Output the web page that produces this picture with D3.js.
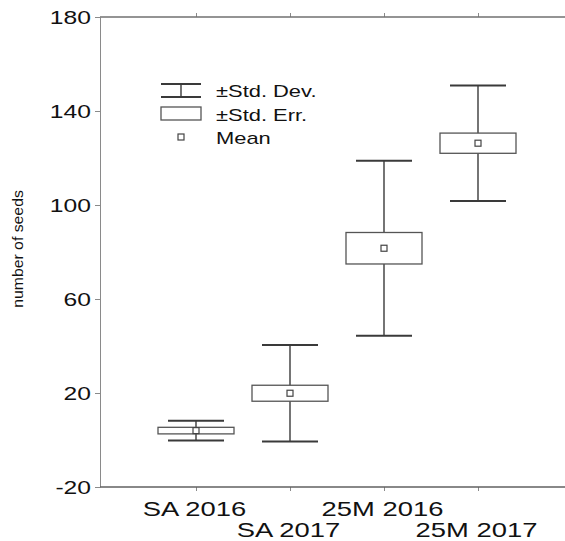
<!DOCTYPE html>
<html>
<head>
<meta charset="utf-8">
<script src="https://cdn.jsdelivr.net/npm/d3@7"></script>
<style>
  body { margin: 0; background: #fff; }
  text { font-family: "Liberation Sans", Arial, sans-serif; fill: #111; }
</style>
</head>
<body>
<div class="canvas"></div>
<script>
// data
const groups = ['SA 2016', 'SA 2017', '25M 2016', '25M 2017'];
const means = [4.0, 19.9, 81.6, 126.3];
const stdErr = [1.4, 3.4, 6.7, 4.3];
const stdDev = [4.2, 20.5, 37.2, 24.6];
const yTicks = [-20, 20, 60, 100, 140, 180];
const legendLabels = ['\u00B1Std. Dev.', '\u00B1Std. Err.', 'Mean'];

const dims = { width: 565, height: 541 };
const stretch = 1.37; // text in the original is wider than it is tall

const svg = d3.select('.canvas')
    .append('svg')
    .attr('width', dims.width)
    .attr('height', dims.height);

const y = d3.scaleLinear().domain([-20, 180]).range([487, 17]);
const x = d3.scalePoint().domain(groups).range([102, 572]).padding(1);

const axisColor = '#8a8a8a';
const markColor = '#3a3a3a';

// left axis
const yAxis = svg.append('g')
    .attr('transform', 'translate(100, 0)')
    .call(d3.axisLeft(y).tickValues(yTicks).tickSize(5).tickSizeOuter(0).tickFormat(d => String(d)));
yAxis.select('.domain').attr('stroke', axisColor);
yAxis.selectAll('.tick line').attr('stroke', axisColor);
yAxis.selectAll('.tick text')
    .attr('x', 0)
    .attr('dy', null)
    .attr('transform', 'translate(-9, 6.5) scale(' + stretch + ', 1)')
    .style('font-size', '18px')
    .style('font-family', '"Liberation Sans", Arial, sans-serif')
    .attr('fill', '#111');

// bottom axis with staggered labels
const xAxis = svg.append('g')
    .attr('transform', 'translate(0, 487)')
    .call(d3.axisBottom(x).tickSize(4).tickSizeOuter(0));
xAxis.select('.domain').remove();
xAxis.selectAll('.tick line').attr('stroke', axisColor);
xAxis.selectAll('.tick text')
    .attr('y', 0)
    .attr('dy', null)
    .attr('transform', (d, i) => 'translate(-2, ' + (i % 2 ? 50 : 29) + ') scale(' + stretch + ', 1)')
    .style('font-size', '20px')
    .style('font-family', '"Liberation Sans", Arial, sans-serif')
    .attr('fill', '#111');

// top axis (ticks only, no labels)
const topAxis = svg.append('g')
    .attr('transform', 'translate(0, 17)')
    .call(d3.axisTop(x).tickSize(4).tickSizeOuter(0).tickFormat(''));
topAxis.select('.domain').remove();
topAxis.selectAll('.tick line').attr('stroke', axisColor);

// horizontal frame lines
[17, 487].forEach(yy => {
    svg.append('line')
        .attr('x1', 100).attr('x2', dims.width)
        .attr('y1', yy).attr('y2', yy)
        .attr('stroke', yy === 17 ? '#707070' : '#606060')
        .attr('stroke-width', 1.3);
});

// y axis title
svg.append('text')
    .attr('transform', 'translate(23, 249) rotate(-90) scale(1.13, 1)')
    .attr('text-anchor', 'middle')
    .style('font-size', '14px')
    .text('number of seeds');

// boxes
const boxHalf = 38, capHalf = 28, meanSize = 6;
const rows = groups.map((g, i) => ({ g, m: means[i], se: stdErr[i], sd: stdDev[i] }));

const box = svg.selectAll('.box')
    .data(rows)
    .enter()
    .append('g')
    .attr('class', 'box');

box.append('line')
    .attr('x1', d => x(d.g)).attr('x2', d => x(d.g))
    .attr('y1', d => y(d.m + d.sd)).attr('y2', d => y(d.m - d.sd))
    .attr('stroke', markColor).attr('stroke-width', 1.4);

box.selectAll('.cap')
    .data(d => [d.m + d.sd, d.m - d.sd].map(v => ({ g: d.g, v })))
    .enter()
    .append('line')
    .attr('class', 'cap')
    .attr('x1', d => x(d.g) - capHalf).attr('x2', d => x(d.g) + capHalf)
    .attr('y1', d => y(d.v)).attr('y2', d => y(d.v))
    .attr('stroke', markColor).attr('stroke-width', 2);

box.append('rect')
    .attr('x', d => x(d.g) - boxHalf)
    .attr('width', boxHalf * 2)
    .attr('y', d => y(d.m + d.se))
    .attr('height', d => y(d.m - d.se) - y(d.m + d.se))
    .attr('fill', '#fff')
    .attr('stroke', '#555').attr('stroke-width', 1.3);

box.append('rect')
    .attr('x', d => x(d.g) - meanSize / 2)
    .attr('y', d => y(d.m) - meanSize / 2)
    .attr('width', meanSize).attr('height', meanSize)
    .attr('fill', '#fff')
    .attr('stroke', '#444').attr('stroke-width', 1.2);

// legend
const legend = svg.append('g').attr('transform', 'translate(161, 84)');
legend.append('line').attr('x1', 0).attr('x2', 40).attr('y1', 0).attr('y2', 0)
    .attr('stroke', markColor).attr('stroke-width', 2);
legend.append('line').attr('x1', 0).attr('x2', 40).attr('y1', 13).attr('y2', 13)
    .attr('stroke', markColor).attr('stroke-width', 2);
legend.append('line').attr('x1', 20).attr('x2', 20).attr('y1', 0).attr('y2', 13)
    .attr('stroke', markColor).attr('stroke-width', 1.4);
legend.append('rect').attr('x', 0).attr('y', 23).attr('width', 40).attr('height', 13)
    .attr('fill', '#fff').attr('stroke', '#555').attr('stroke-width', 1.3);
legend.append('rect').attr('x', 17).attr('y', 50).attr('width', 6).attr('height', 6)
    .attr('fill', '#fff').attr('stroke', '#444').attr('stroke-width', 1.2);

legend.selectAll('.label')
    .data(legendLabels)
    .enter()
    .append('text')
    .attr('class', 'label')
    .attr('transform', (d, i) => 'translate(55, ' + (13 + i * 23.5) + ') scale(' + stretch + ', 1)')
    .style('font-size', '16px')
    .text(d => d);
</script>
</body>
</html>
